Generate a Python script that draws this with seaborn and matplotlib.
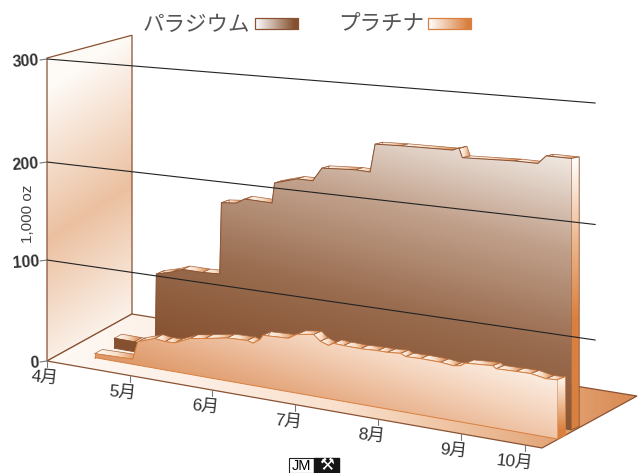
import numpy as np
import matplotlib
matplotlib.use("Agg")
import matplotlib.pyplot as plt
from matplotlib.patches import Polygon
import seaborn as sns

# Monthly holdings, thousand ounces; positions are in months since April
palladium_t = [0.40, 0.64, 0.895, 0.907, 1.10, 1.22, 1.46, 1.67, 1.69, 1.87, 1.97, 2.30, 2.33, 2.43,
               2.60, 2.79, 2.90, 3.30, 3.48, 3.54, 3.845, 4.47, 4.55, 4.59, 5.21, 5.50, 5.60, 5.90]
palladium_v = [10, 10, 10, 81.5, 86, 90, 90, 91, 161, 162.5, 167.5, 167, 186.5, 189,
               193, 193, 206, 208, 207.5, 234, 235, 236, 238.5, 230, 232, 232, 239.5, 239.5]
platinum_t = [0.38, 0.84, 0.90, 1.106, 1.227, 1.348, 1.53, 1.71, 1.977, 2.219, 2.29, 2.376, 2.41, 2.715,
              2.82, 3.02, 3.10, 3.20, 3.26, 3.38, 3.585, 3.79, 3.91, 4.07, 4.13, 4.31, 4.55, 4.71,
              4.79, 4.85, 5.18, 5.22, 5.46, 5.64, 5.82, 5.96]
platinum_v = [4, 5, 23, 29, 27.6, 28, 34.6, 37, 41, 41.7, 40, 44.7, 49, 50,
              55, 57.3, 52, 49.3, 52, 51.4, 51, 51.7, 51.6, 52.6, 50.4, 50.7, 50.3, 49,
              50, 53, 54.6, 52.4, 52.8, 53, 50.6, 51.2]
grid_values = [100, 200, 300]
y_labels = ["0", "100", "200", "300"]
month_t = [0, 1, 2, 3, 4, 5, 5.78]
month_labels = ["4月", "5月", "6月", "7月", "8月", "9月", "10月"]
series_names = ["パラジウム", "プラチナ"]

BROWN = "#8A5232"
ORANGE = "#D9803F"
JP = ["Liberation Sans", "Noto Sans CJK JP"]
T_END = 5.986
T_GRID = 6.63


def project(t, d, v=0.0):
    """Oblique view of (months, depth 0-1, value) onto the canvas."""
    t, d, v = np.asarray(t, float), np.asarray(d, float), np.asarray(v, float)
    bow = t * d ** 2 * (1 - d)
    x = 47 + 85 * d + t * (82.7 + 1.66 * d) - 3 * bow
    y = 361 - 47 * d + t * (14.53 - 0.83 * d) + 7 * bow
    k = (1.01 + 0.0273 * t) * (1 - 0.08 * d)
    return np.column_stack([np.atleast_1d(x), np.atleast_1d(y - k * v)])


def shaded(ax, pts, colors, field, edge=None, lw=0.7, z=2):
    """Fill a polygon with a colour ramp; field(X, Y) gives the ramp position."""
    pts = np.asarray(pts)
    x0, y0 = pts.min(axis=0)
    x1, y1 = pts.max(axis=0)
    nx, ny = max(int(x1 - x0) + 2, 2), max(int(y1 - y0) + 2, 2)
    X, Y = np.meshgrid(np.linspace(x0, x1, nx), np.linspace(y0, y1, ny))
    cmap = sns.blend_palette(colors, as_cmap=True)
    im = ax.imshow(np.clip(field(X, Y), 0, 1), cmap=cmap, vmin=0, vmax=1, aspect="auto",
                   extent=(x0, x1, y1, y0), interpolation="bilinear", zorder=z)
    clip = Polygon(pts, closed=True, transform=ax.transData)
    im.set_clip_path(clip)
    if edge:
        ax.add_patch(Polygon(pts, closed=True, fill=False, ec=edge, lw=lw, zorder=z + 0.01))


def draw_series(ax, t, v, depth, cap_depth, front_colors, front_field, side_field, side_colors, edge, z):
    t, v = np.asarray(t), np.asarray(v)
    for i in range(len(t) - 1):
        cap = np.vstack([project(t[i], depth, v[i]), project(t[i + 1], depth, v[i + 1]),
                         project(t[i + 1], depth + cap_depth, v[i + 1]),
                         project(t[i], depth + cap_depth, v[i])])
        lo, hi = cap[:, 0].min(), cap[:, 0].max()
        shaded(ax, cap, ["#FFFDFB", "#F7DCC6", ORANGE],
               lambda X, Y, lo=lo, hi=hi: (X - lo) / max(hi - lo, 1),
               edge="#A9683F", lw=0.5, z=z)
    side = np.vstack([project(t[-1], depth, v[-1]), project(t[-1], depth + cap_depth, v[-1]),
                      project(t[-1], depth + cap_depth, 0), project(t[-1], depth, 0)])
    shaded(ax, side, side_colors, side_field, edge=edge, lw=0.6, z=z + 0.1)
    top = project(t, depth, v)
    base = project(t[::-1], depth, 0)
    shaded(ax, np.vstack([top, base]), front_colors, front_field, z=z + 0.2)
    for xs, ys in [(top[:, 0], top[:, 1]),
                   (base[:, 0], base[:, 1]),
                   ([top[0, 0], base[-1, 0]], [top[0, 1], base[-1, 1]])]:
        sns.lineplot(x=xs, y=ys, color=edge, lw=0.7, sort=False, estimator=None,
                     ax=ax, legend=False, zorder=z + 0.3)


sns.set_theme(style="white", rc={"axes.facecolor": "white", "figure.facecolor": "white"})
plt.rcParams["font.family"] = JP
fig = plt.figure(figsize=(6.39, 4.73), dpi=100)
ax = fig.add_axes([0, 0, 1, 1])
ax.set_xlim(0, 639)
ax.set_ylim(473, 0)
ax.axis("off")

# Left wall
wall = np.vstack([project(0, 0, 0), project(0, 0, 300), project(0, 1, 300), project(0, 1, 0)])
shaded(ax, wall, ["#FEFAF6", "#EBC0A0", "#FEFAF6"],
       lambda X, Y: (Y + 0.65 * (X - 47) - 90) / 300, edge=BROWN, lw=0.9, z=1)

# Floor
floor = np.vstack([project(0, 0), project(T_END, 0), project(T_END, 1), project(0, 1)])
shaded(ax, floor, ["#FEFAF6", "#FCEEE4", "#F9E0CC", "#EBBA94", "#D98A52"],
       lambda X, Y: (X - 47) / 590, edge=BROWN, lw=0.9, z=1.1)

# Palladium behind, platinum in front
draw_series(ax, palladium_t, palladium_v, 0.40, 0.09,
            ["#85502F", "#9A6D50", "#C2A28D", "#F5EFEA"],
            lambda X, Y: (0.25 * (X - 157) + (345 - Y)) / 300,
            lambda X, Y: (Y - 160) / 160,
            ["#FFFDFB", "#EDB890", ORANGE], BROWN, 3)
draw_series(ax, platinum_t, platinum_v, 0.19, 0.09,
            ["#D6874E", "#D98F5A", "#E8B08A", "#F5D5BE", "#FDF5EE"],
            lambda X, Y: 0.7 + 0.0016 * (X - 300) - 0.005 * (Y - 345),
            lambda X, Y: (Y - 380) / 50,
            ["#FDF3EA", ORANGE], ORANGE, 5)


def wall_height(v):
    return np.interp(v, [0, 100, 200, 300], [0, 100, 197, 299])


# Value gridlines and their ticks
for v in grid_values:
    h = wall_height(v)
    ends = project([0, T_GRID], 0, [h, h - 1.5])
    sns.lineplot(x=ends[:, 0], y=ends[:, 1], color="#222222", lw=0.8, sort=False, estimator=None,
                 ax=ax, legend=False, zorder=7)
for lab, v in zip(y_labels, [0] + grid_values):
    px, py = project(0, 0, wall_height(v))[0]
    ax.plot([px - 7, px], [py + 1, py], color="#777777", lw=0.8, zorder=7)
    ax.text(px - 8, py + 2, lab, ha="right", va="center", fontsize=11.5, fontweight="bold",
            color="#333333", rotation=4, rotation_mode="anchor", family=JP)

# Month ticks along the front edge of the floor
for i, (t, lab) in enumerate(zip(month_t, month_labels)):
    px, py = project(t, 0)[0]
    ax.plot([px, px], [py, py + 6], color="#777777", lw=0.8, zorder=1.5)
    ax.text(px - (2.5 if i == 0 else (11 if i == 6 else 7)), py + 17, lab, ha="center", va="center",
            fontsize=12.5, color="#333333", rotation=-6, family=JP)

ax.text(28, 214, "1,000 oz", rotation=90, ha="center", va="center", fontsize=11, color="#444444", family=JP)

# Legend entries
ax.text(143, 25, series_names[0], ha="left", va="center", fontsize=15.5, color="#555555", family=JP)
ax.text(338, 25, series_names[1], ha="left", va="center", fontsize=15.5, color="#555555", family=JP)
for x0, c, e in [(255, "#85502F", BROWN), (428, ORANGE, ORANGE)]:
    sw = np.array([[x0, 18], [x0 + 43, 18], [x0 + 43, 29], [x0, 29]])
    shaded(ax, sw, ["#FFFFFF", c], lambda X, Y, x0=x0: (X - x0) / 40, edge=e, lw=0.9, z=6)

# Maker's mark
ax.text(301.5, 466, "JM", ha="center", va="center", fontsize=10.5, color="black", family=JP, zorder=8)
ax.add_patch(Polygon([[289, 458], [314, 458], [314, 473], [289, 473]], closed=True, fill=False, ec="#222222", lw=0.8))
ax.add_patch(Polygon([[314, 458], [339, 458], [339, 473], [314, 473]], closed=True, fc="#151515", ec="#151515"))
ax.text(326.5, 465.5, "⚒", ha="center", va="center", fontsize=12, color="white", family="DejaVu Sans", zorder=8)

ax.set_xlim(0, 639)
ax.set_ylim(473, 0)
fig.savefig("out.png", dpi=100)
